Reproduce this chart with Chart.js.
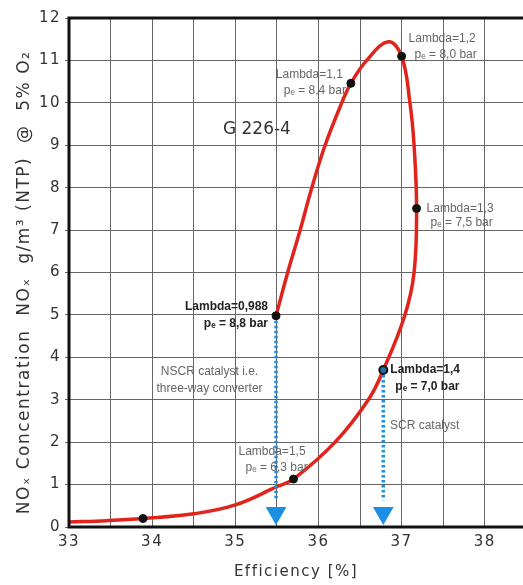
<!DOCTYPE html>
<html><head><meta charset="utf-8">
<script src="https://cdn.jsdelivr.net/npm/chart.js@4.4.0/dist/chart.umd.min.js"></script>
<style>html,body{margin:0;padding:0;background:#fff;overflow:hidden}#wrap{width:523px;height:585px}canvas{display:block}</style>
</head><body><div id="wrap"><canvas id="c" width="523" height="585"></canvas></div>
<script>
// Curve (efficiency %, NOx g/m3)
const curveX = [33.0, 33.45, 33.89, 34.5, 35.0, 35.5, 35.7, 36.2, 36.6, 36.78, 37.04, 37.15, 37.18, 37.15, 37.1, 37.0, 36.84, 36.58, 36.39, 36.28, 36.08, 35.92, 35.78, 35.63, 35.49];
const curveY = [0.12, 0.15, 0.2, 0.31, 0.52, 0.95, 1.13, 2.0, 3.0, 3.70, 5.0, 6.0, 7.51, 9.0, 10.0, 11.1, 11.44, 11.0, 10.46, 10.0, 9.0, 8.0, 7.0, 6.0, 4.98];
// Operating points
const pointX = [33.89, 35.7, 36.78, 37.18, 37.0, 36.39, 35.49];
const pointY = [0.2, 1.13, 3.70, 7.51, 11.1, 10.46, 4.98];
const pointLine1 = ["", "Lambda=1,5", "Lambda=1,4", "Lambda=1,3", "Lambda=1,2", "Lambda=1,1", "Lambda=0,988"];
const pointLine2 = ["", "pₑ = 6,3 bar", "pₑ = 7,0 bar", "pₑ = 7,5 bar", "pₑ = 8,0 bar", "pₑ = 8,4 bar", "pₑ = 8,8 bar"];
// Catalyst arrows
const arrowX = [35.49, 36.78];
const arrowTopY = [4.98, 3.70];
const arrowTipY = [0.33, 0.33];
// Axis ticks
const xTicks = [33, 34, 35, 36, 37, 38];
const yTicks = [0, 1, 2, 3, 4, 5, 6, 7, 8, 9, 10, 11, 12];

const RED = '#e0241b', BLUE = '#1a8fe3';
const curve = curveX.map((x, i) => ({x, y: curveY[i]}));
const pts = pointX.map((x, i) => ({x, y: pointY[i]}));

const datasets = [
  {data: curve, showLine: true, borderColor: RED, borderWidth: 3.5, tension: 0.4, pointRadius: 0, order: 3}
];
arrowX.forEach((x, i) => {
  datasets.push({data: [{x, y: arrowTopY[i]}, {x, y: arrowTipY[i] + 0.3}], showLine: true, borderColor: BLUE, borderWidth: 3.5, borderDash: [2.5, 2.5], pointRadius: 0, order: 2});
  datasets.push({data: [{x, y: arrowTipY[i]}], showLine: false, pointStyle: 'triangle', rotation: 180, pointRadius: 12, backgroundColor: BLUE, borderColor: BLUE, borderWidth: 0, order: 1});
});
datasets.push({data: pts, showLine: false, pointRadius: 4,
  backgroundColor: pointX.map((x, i) => i === 2 ? '#1f6fb0' : '#111'), borderColor: '#111', borderWidth: pointX.map((x, i) => i === 2 ? 2 : 1), order: 0});

// text placement (pixel offsets from each point): [dx1, dy1, align1, dx2, dy2, align2, bold]
const labelPlace = [
  null,
  [-55, -27, 'left', -48, -11, 'left', false],
  [7, 0, 'left', 12, 17, 'left', true],
  [10, 0, 'left', 14, 14, 'left', false],
  [7, -17, 'left', 13, -1, 'left', false],
  [-8, -9, 'right', -5, 7, 'right', false],
  [-8, -9, 'right', -8, 8, 'right', true]
];
const NARROW = '"Liberation Sans Narrow", "Liberation Sans"';
const freeText = [
  {t: 'G 226-4', x: 35.26, y: 9.36, size: 17, font: 'DejaVu Sans', color: '#333', align: 'center'},
  {t: 'NSCR catalyst i.e.', x: 34.69, y: 3.65, size: 12, font: NARROW, color: '#666', align: 'center'},
  {t: 'three-way converter', x: 34.69, y: 3.27, size: 12, font: NARROW, color: '#666', align: 'center'},
  {t: 'SCR catalyst', x: 36.86, y: 2.4, size: 12, font: NARROW, color: '#666', align: 'left'}
];

const textPlugin = {
  id: 'texts',
  beforeDraw(chart) { chart.ctx.letterSpacing = '1.5px'; },
  beforeDatasetsDraw(chart) { chart.ctx.letterSpacing = '0px'; },
  afterDatasetsDraw(chart) {
    const ctx = chart.ctx, xs = chart.scales.x, ys = chart.scales.y;
    ctx.save();
    ctx.letterSpacing = '0px';
    ctx.textBaseline = 'middle';
    pointX.forEach((x, i) => {
      const p = labelPlace[i]; if (!p) return;
      const px = xs.getPixelForValue(x), py = ys.getPixelForValue(pointY[i]);
      ctx.font = (p[6] ? 'bold ' : '') + '12px ' + NARROW;
      ctx.fillStyle = p[6] ? '#222' : '#666';
      ctx.textAlign = p[2]; ctx.fillText(pointLine1[i], px + p[0], py + p[1]);
      ctx.textAlign = p[5]; ctx.fillText(pointLine2[i], px + p[3], py + p[4]);
    });
    freeText.forEach(f => {
      ctx.font = f.size + 'px ' + f.font;
      ctx.fillStyle = f.color; ctx.textAlign = f.align;
      ctx.fillText(f.t, xs.getPixelForValue(f.x), ys.getPixelForValue(f.y));
    });
    // thick frame on left, bottom and top
    const a = chart.chartArea;
    ctx.strokeStyle = '#111'; ctx.lineWidth = 3;
    ctx.beginPath();
    ctx.moveTo(a.right, a.top); ctx.lineTo(a.left, a.top); ctx.lineTo(a.left, a.bottom); ctx.lineTo(a.right, a.bottom);
    ctx.stroke();
    ctx.restore();
  }
};

const isTick = (list, v) => list.some(t => Math.abs(t - v) < 1e-6);

new Chart(document.getElementById('c'), {
  type: 'scatter',
  data: {datasets},
  options: {
    responsive: false, animation: false,
    layout: {autoPadding: false, padding: {top: 18, right: 0, left: 0, bottom: 0}},
    plugins: {legend: {display: false}, tooltip: {enabled: false}},
    scales: {
      x: {
        type: 'linear', min: 33, max: 38.46,
        afterFit(s) { s.height = 58; s.paddingRight = 0; s.paddingLeft = 0; },
        ticks: {stepSize: 0.5, includeBounds: false, autoSkip: false, maxRotation: 0, color: '#333', font: {family: 'DejaVu Sans', size: 15}, padding: 6,
          callback: v => isTick(xTicks, v) ? String(Math.round(v)) : ''},
        grid: {color: '#666', lineWidth: 1, drawTicks: false},
        border: {display: false},
        title: {display: true, text: 'Efficiency [%]', color: '#333', font: {family: 'DejaVu Sans', size: 15}, padding: {top: 8}}
      },
      y: {
        type: 'linear', min: 0, max: 12,
        afterFit(s) { s.width = 69; },
        ticks: {stepSize: 1, color: '#333', font: {family: 'DejaVu Sans', size: 15}, padding: 4,
          callback: v => isTick(yTicks, v) ? String(Math.round(v)) : ''},
        grid: {color: '#666', lineWidth: 1, tickLength: 4},
        border: {display: false},
        title: {display: true, text: 'NOₓ Concentration  NOₓ  g/m³ (NTP)  @  5% O₂\u2002\u2002', color: '#333', font: {family: 'DejaVu Sans', size: 17}, padding: {top: 14, bottom: 0}}
      }
    }
  },
  plugins: [textPlugin]
});
</script></body></html>
